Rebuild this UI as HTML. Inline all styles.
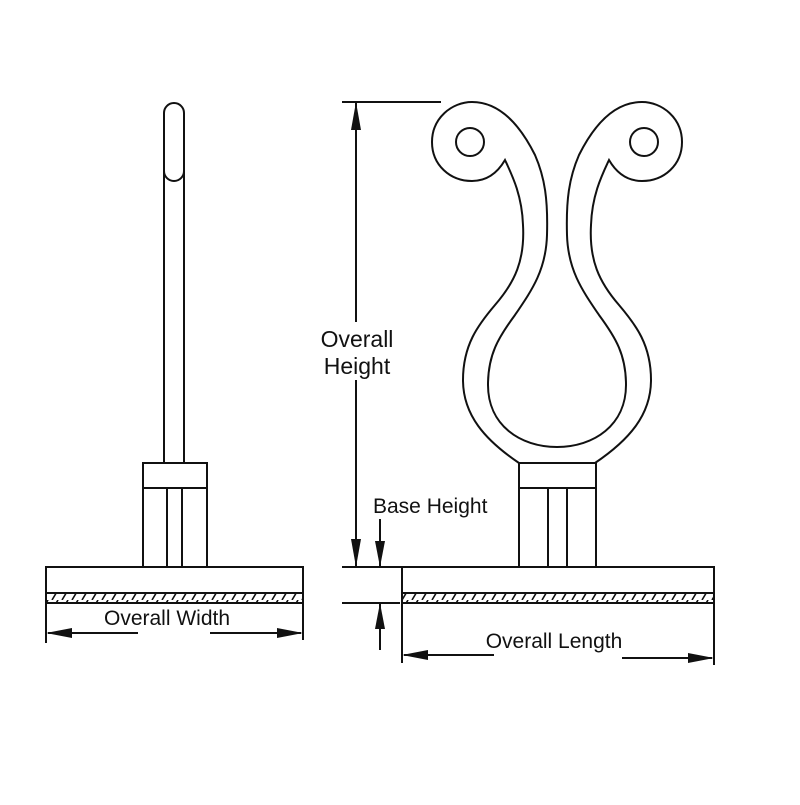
<!DOCTYPE html>
<html><head><style>html,body{margin:0;padding:0;background:#fff}</style></head><body>
<svg width="800" height="800" viewBox="0 0 800 800" xmlns="http://www.w3.org/2000/svg">
<defs>
<pattern id="h" width="10" height="10" patternUnits="userSpaceOnUse">
<line x1="2" y1="10" x2="8" y2="0" stroke="#111" stroke-width="1.6"/>
</pattern>
</defs>
<g fill="none" stroke="#111" stroke-width="2">
<!-- left view -->
<path d="M164,463 V113 A10,10 0 0 1 184,113 V463"/>
<path d="M164,171 A10,10 0 0 0 184,171"/>
<rect x="143" y="463" width="64" height="104" fill="#fff"/>
<line x1="143" y1="488" x2="207" y2="488"/>
<line x1="167" y1="488" x2="167" y2="567"/>
<line x1="182" y1="488" x2="182" y2="567"/>
<rect x="46" y="567" width="257" height="36"/>
<rect x="46" y="593" width="257" height="10" fill="url(#h)"/>
<line x1="46" y1="603" x2="46" y2="643"/>
<line x1="303" y1="603" x2="303" y2="640"/>
<line x1="48" y1="633" x2="138" y2="633"/>
<line x1="210" y1="633" x2="301" y2="633"/>
<!-- right base -->
<rect x="519" y="463" width="77" height="104"/>
<line x1="519" y1="488" x2="596" y2="488"/>
<line x1="548" y1="488" x2="548" y2="567"/>
<line x1="567" y1="488" x2="567" y2="567"/>
<rect x="402" y="567" width="312" height="36"/>
<rect x="402" y="593" width="312" height="10" fill="url(#h)"/>
<line x1="402" y1="567" x2="402" y2="663"/>
<line x1="714" y1="567" x2="714" y2="665"/>
<line x1="404" y1="655" x2="494" y2="655"/>
<line x1="622" y1="658" x2="712" y2="658"/>
<!-- clip shape -->
<path d="M519,463 C485,440 463,415 463,380 C463,345 478,325 495,305 C515,282 525,260 523,225 C522,195 512,175 505,160 C498,172 488,181 472,181 C450,181 432,165 432,142 C432,118 452,102 472,102 C500,102 520,125 535,155 C545,178 548,200 547,235 C546,270 532,290 515,315 C498,338 488,355 488,385 C488,425 520,447 557,447 C594,447 626,425 626,385 C626,355 616,338 599,315 C582,290 568,270 567,235 C566,200 569,178 579,155 C594,125 614,102 642,102 C662,102 682,118 682,142 C682,165 664,181 642,181 C626,181 616,172 609,160 C602,175 592,195 591,225 C589,260 599,282 619,305 C636,325 651,345 651,380 C651,415 629,440 595,463"/>
<circle cx="470" cy="142" r="14"/>
<circle cx="644" cy="142" r="14"/>
<!-- dims -->
<line x1="342" y1="102" x2="441" y2="102"/>
<line x1="356" y1="102" x2="356" y2="567"/>
<line x1="342" y1="567" x2="402" y2="567"/>
<line x1="342" y1="603" x2="400" y2="603"/>
<line x1="380" y1="519" x2="380" y2="567"/>
<line x1="380" y1="603" x2="380" y2="650"/>
</g>
<rect x="312" y="322" width="90" height="58" fill="#fff"/>
<g fill="#111">
<path d="M356,102 l-5,28 h10z"/>
<path d="M356,567 l-5,-28 h10z"/>
<path d="M380,567 l-5,-26 h10z"/>
<path d="M380,603 l-5,26 h10z"/>
<path d="M46,633 l26,-5 v10z"/>
<path d="M303,633 l-26,-5 v10z"/>
<path d="M402,655 l26,-5 v10z"/>
<path d="M714,658 l-26,-5 v10z"/>
</g>
<g font-family="Liberation Sans, sans-serif" fill="#111" font-size="21">
<text x="167" y="625" text-anchor="middle">Overall Width</text>
<text x="554" y="648" text-anchor="middle">Overall Length</text>
<text x="373" y="513">Base Height</text>
<text x="357" y="347" text-anchor="middle" font-size="23">Overall</text>
<text x="357" y="374" text-anchor="middle" font-size="23">Height</text>
</g>
</svg>
</body></html>
